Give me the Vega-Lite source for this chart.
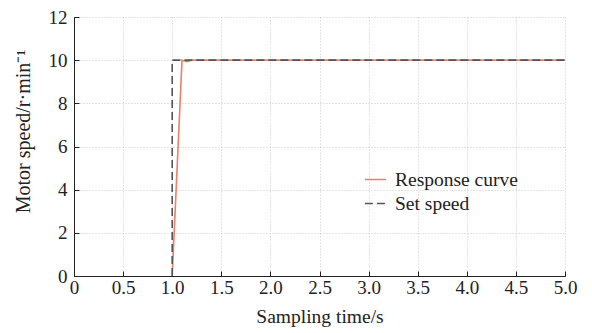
{
  "$schema": "https://vega.github.io/schema/vega-lite/v6.json",
  "autosize": {"type": "none"},
  "width": 491,
  "height": 259,
  "padding": {"left": 74, "top": 17, "right": 27, "bottom": 57},
  "background": "white",
  "config": {
    "font": "Liberation Serif",
    "view": {"stroke": null}
  },
  "data": {
    "values": [
      {"t": 1.0, "v": 0, "s": "Response curve", "i": 1},
      {"t": 1.1, "v": 10, "s": "Response curve", "i": 2},
      {"t": 1.15, "v": 9.93, "s": "Response curve", "i": 3},
      {"t": 1.2, "v": 10, "s": "Response curve", "i": 4},
      {"t": 5.0, "v": 10, "s": "Response curve", "i": 5},
      {"t": 1.0, "v": 0, "s": "Set speed", "i": 1},
      {"t": 1.0, "v": 10, "s": "Set speed", "i": 2},
      {"t": 5.0, "v": 10, "s": "Set speed", "i": 3}
    ]
  },
  "mark": {"type": "line", "strokeWidth": 1.6},
  "encoding": {
    "x": {
      "field": "t", "type": "quantitative",
      "scale": {"domain": [0, 5], "nice": false},
      "axis": {
        "values": [0, 0.5, 1, 1.5, 2, 2.5, 3, 3.5, 4, 4.5, 5],
        "labelExpr": "datum.value == 0 ? '0' : format(datum.value, '.1f')",
        "title": "Sampling time/s",
        "labelFont": "Liberation Serif",
        "titleFont": "Liberation Serif",
        "titleFontWeight": "normal",
        "labelColor": "#222",
        "titleColor": "#222",
        "domainColor": "#222",
        "tickColor": "#222",
        "gridColor": "#c8c8c8",
        "gridDash": [1, 2],
        "labelFontSize": 19,
        "titleFontSize": 19.5,
        "tickSize": -5,
        "labelPadding": 7,
        "titlePadding": 10,
        "labelFlush": false
      }
    },
    "y": {
      "field": "v", "type": "quantitative",
      "scale": {"domain": [0, 12], "nice": false},
      "axis": {
        "values": [0, 2, 4, 6, 8, 10, 12],
        "title": "Motor speed/r·min⁻¹",
        "labelFont": "Liberation Serif",
        "titleFont": "Liberation Serif",
        "titleFontWeight": "normal",
        "labelColor": "#222",
        "titleColor": "#222",
        "domainColor": "#222",
        "tickColor": "#222",
        "gridColor": "#c8c8c8",
        "gridDash": [1, 2],
        "labelFontSize": 19,
        "titleFontSize": 20,
        "titleY": 114,
        "tickSize": -5,
        "labelPadding": 12,
        "titlePadding": 15
      }
    },
    "color": {
      "field": "s", "type": "nominal",
      "scale": {"domain": ["Response curve", "Set speed"], "range": ["#e8806a", "#555555"]},
      "legend": {
        "title": null,
        "orient": "none",
        "legendX": 290,
        "legendY": 151,
        "labelFont": "Liberation Serif",
        "labelFontSize": 19.5,
        "labelColor": "#222",
        "symbolType": "stroke",
        "symbolSize": 450,
        "symbolStrokeWidth": 1.6,
        "rowPadding": 3,
        "labelOffset": 8
      }
    },
    "strokeDash": {
      "field": "s", "type": "nominal",
      "scale": {"domain": ["Response curve", "Set speed"], "range": [[1, 0], [8, 4]]},
      "legend": null
    },
    "order": {"field": "i", "type": "quantitative"}
  }
}
